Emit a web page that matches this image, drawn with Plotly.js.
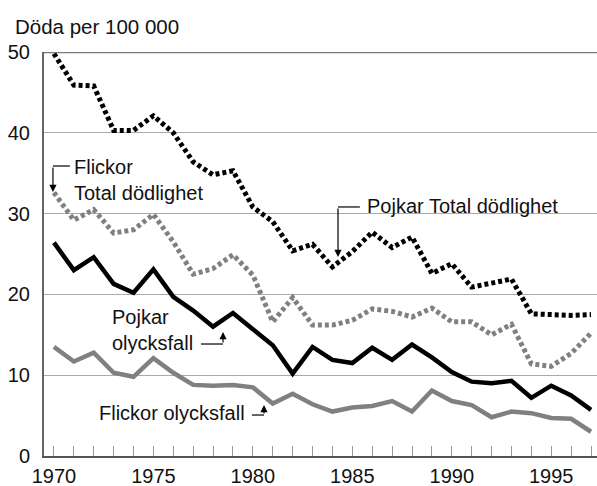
<!DOCTYPE html>
<html>
<head>
<meta charset="utf-8">
<script src="https://cdn.plot.ly/plotly-3.0.1.min.js"></script>
<style>html,body{margin:0;padding:0;background:#fff;}#chart{width:597px;height:486px;}</style>
</head>
<body>
<div id="chart"></div>
<script>
var years = [1970,1971,1972,1973,1974,1975,1976,1977,1978,1979,1980,1981,1982,1983,1984,1985,1986,1987,1988,1989,1990,1991,1992,1993,1994,1995,1996,1997];
var pojkarTotal = [49.8,45.9,45.8,40.3,40.3,42.1,40.0,36.4,34.8,35.3,30.8,29.0,25.4,26.2,23.4,25.3,27.7,25.8,27.1,22.6,23.8,20.9,21.4,21.9,17.6,17.5,17.4,17.5];
var flickorTotal = [32.6,29.2,30.5,27.6,28.0,29.9,26.5,22.5,23.2,24.9,22.4,16.6,19.6,16.2,16.2,16.8,18.2,17.9,17.2,18.3,16.6,16.6,15.0,16.3,11.4,11.1,12.7,15.2];
var pojkarOlycksfall = [26.4,23.0,24.6,21.3,20.2,23.1,19.7,18.0,16.0,17.7,15.7,13.7,10.2,13.5,11.9,11.5,13.4,11.9,13.8,12.2,10.4,9.2,9.0,9.3,7.2,8.7,7.5,5.7];
var flickorOlycksfall = [13.5,11.7,12.8,10.3,9.8,12.1,10.3,8.8,8.7,8.8,8.5,6.5,7.7,6.4,5.5,6.0,6.2,6.8,5.5,8.1,6.8,6.3,4.8,5.5,5.3,4.7,4.6,3.0];
var xTickVals = [1970,1975,1980,1985,1990,1995];
var xTickText = ["1970","1975","1980","1985","1990","1995"];
var yTickVals = [0,10,20,30,40,50];
var yTickText = ["0","10","20","30","40","50"];
var yTitle = "Döda per 100 000";

var FONT = "Liberation Sans, Arial, sans-serif";
var BLACK = "#000000", GRAY = "#808080";

var traces = [
  {x: years, y: flickorTotal, mode: "lines", line: {color: GRAY, width: 5, dash: "4px,3px"}},
  {x: years, y: pojkarTotal, mode: "lines", line: {color: BLACK, width: 5, dash: "4px,3px"}},
  {x: years, y: flickorOlycksfall, mode: "lines", line: {color: GRAY, width: 4.5}},
  {x: years, y: pojkarOlycksfall, mode: "lines", line: {color: BLACK, width: 4.5}}
];

function lbl(text, x, y) {
  return {text: text, x: x, y: y, xref: "x", yref: "y", xanchor: "left", yanchor: "middle", align: "left",
          showarrow: false, font: {family: FONT, size: 20, color: "#111"}};
}
function arr(xt, yt, xs, ys) {
  return {text: "", x: xt, y: yt, xref: "x", yref: "y", ax: xs, ay: ys, axref: "x", ayref: "y",
          showarrow: true, arrowhead: 2, arrowsize: 1.2, arrowwidth: 1.2, arrowcolor: "#000", standoff: 0};
}
function hline(x0, x1, y) {
  return {type: "line", xref: "x", yref: "y", x0: x0, x1: x1, y0: y, y1: y, line: {color: "#000", width: 1.2}};
}

var annotations = [
  {text: yTitle, xref: "paper", yref: "paper", x: -0.056, y: 1.0, yshift: 26, xanchor: "left", yanchor: "middle",
   showarrow: false, font: {family: FONT, size: 20.5, color: "#111"}},
  lbl("Flickor<br>Total dödlighet", 1970.9, 34.1),
  lbl("Pojkar Total dödlighet", 1985.64, 30.9),
  lbl("Pojkar<br>olycksfall", 1972.82, 15.6),
  lbl("Flickor olycksfall", 1972.16, 5.3),
  arr(1969.95, 32.67, 1969.95, 35.89),
  arr(1984.28, 24.63, 1984.28, 30.82),
  arr(1978.50, 15.35, 1978.50, 13.86),
  arr(1980.56, 6.31, 1980.56, 5.07)
];

var shapes = [
  {type: "line", xref: "paper", yref: "y", x0: 0, x1: 1, y0: 50, y1: 50, line: {color: "#7a7a7a", width: 2.5}},
  hline(1970.80, 1969.95, 35.89),
  hline(1985.38, 1984.28, 30.82),
  hline(1977.39, 1978.50, 13.86),
  hline(1979.95, 1980.56, 5.07)
];

var layout = {
  width: 597, height: 486,
  margin: {l: 44, r: 0, t: 52, b: 30, pad: 0},
  paper_bgcolor: "#fff", plot_bgcolor: "#fff",
  showlegend: false,
  font: {family: FONT, size: 20, color: "#111"},
  xaxis: {
    range: [1969.5, 1997.3], tickmode: "array", tickvals: xTickVals, ticktext: xTickText,
    ticks: "inside", ticklen: 10, tickwidth: 1, tickcolor: "#999",
    minor: {dtick: 1, tick0: 1970, ticks: "inside", ticklen: 10, tickwidth: 1, tickcolor: "#999", showgrid: false},
    showgrid: false, zeroline: false, showline: true, linecolor: "#555", linewidth: 2,
    ticklabelstandoff: 1, tickfont: {family: FONT, size: 20, color: "#111"}
  },
  yaxis: {
    range: [0, 50], tickmode: "array", tickvals: yTickVals, ticktext: yTickText,
    ticks: "", showgrid: true, gridcolor: "#aaaaaa", gridwidth: 1,
    zeroline: false, showline: true, linecolor: "#666", linewidth: 2,
    ticklabelstandoff: 8, tickfont: {family: FONT, size: 20, color: "#111"}
  },
  annotations: annotations,
  shapes: shapes
};

Plotly.newPlot("chart", traces, layout, {staticPlot: true, displayModeBar: false});
</script>
</body>
</html>
